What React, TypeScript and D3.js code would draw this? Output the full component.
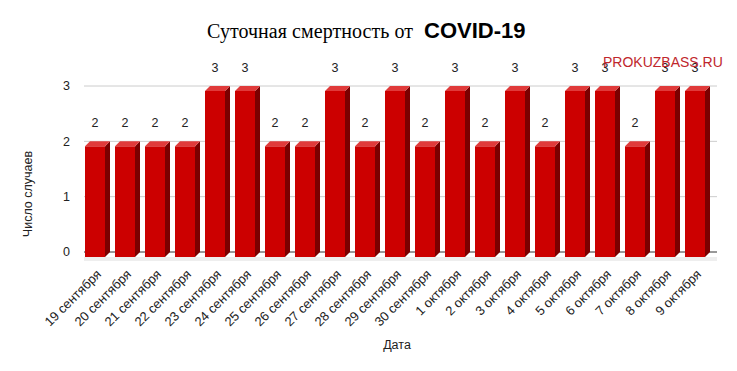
import React from 'react';
import * as d3 from 'd3';

const dates = [
  '19 сентября', '20 сентября', '21 сентября', '22 сентября', '23 сентября',
  '24 сентября', '25 сентября', '26 сентября', '27 сентября', '28 сентября',
  '29 сентября', '30 сентября', '1 октября', '2 октября', '3 октября',
  '4 октября', '5 октября', '6 октября', '7 октября', '8 октября', '9 октября',
];
const deaths = [2, 2, 2, 2, 3, 3, 2, 2, 3, 2, 3, 2, 3, 2, 3, 2, 3, 3, 2, 3, 3];
const yTicks = [0, 1, 2, 3];

const width = 737;
const height = 371;
const margin = { top: 86, right: 20, bottom: 119, left: 85 };
const depth = 5; // глубина 3d

const App: React.FC = () => {
  const innerH = height - margin.top - margin.bottom;

  const x = d3.scaleBand<string>()
    .domain(dates)
    .range([margin.left, margin.left + dates.length * 30])
    .paddingInner(1 / 3)
    .paddingOuter(1 / 6);

  const y = d3.scaleLinear()
    .domain([0, 3])
    .range([margin.top + innerH, margin.top]);

  const bw = x.bandwidth();
  const font = '"Liberation Sans", Arial, sans-serif';
  const serif = '"Liberation Serif", "DejaVu Serif", "Times New Roman", serif';

  return (
    <svg width={width} height={height} style={{ position: 'absolute', left: 0, top: 0 }}>
      <rect width={width} height={height} fill="#fff" />
      <text x={207} y={38} style={{ fontFamily: serif }} fontSize={20} textLength={206} fill="#000">
        Суточная смертность от
      </text>
      <text x={424} y={38} style={{ fontFamily: font }} fontSize={22} fontWeight="bold" fill="#000">
        COVID-19
      </text>

      {yTicks.map(t => (
        <g key={t}>
          <line x1={84} x2={717} y1={y(t)} y2={y(t)} stroke={t === 0 ? '#333' : '#ccc'} strokeWidth={1} />
          <text x={70} y={y(t)} dy="0.35em" textAnchor="end" style={{ fontFamily: font }} fontSize={12.5} fill="#222">{t}</text>
        </g>
      ))}

      {/* тень под столбиками */}
      <rect x={84} y={y(0) + 5} width={633} height={4} fill="#eee" />

      {dates.map((d, i) => {
        const bx = x(d)!;
        const top = y(deaths[i]);
        const base = y(0);
        const fx = bx - depth;
        const fy = top + depth;
        return (
          <g key={d}>
            <polygon
              points={`${fx + bw},${fy} ${bx + bw},${top} ${bx + bw},${base} ${fx + bw},${base + depth}`}
              fill="#7a0000"
            />
            <polygon
              points={`${fx},${fy} ${bx},${top} ${bx + bw},${top} ${fx + bw},${fy}`}
              fill="#e03a3a"
            />
            <rect x={fx} y={fy} width={bw} height={base + depth - fy} fill="#cc0000" />
            <text x={fx + bw / 2} y={top - 14} textAnchor="middle" style={{ fontFamily: font }} fontSize={12.5} fill="#222">
              {deaths[i]}
            </text>
            <text
              transform={`translate(${fx + bw / 2 + 7},${base + 23}) rotate(-45)`}
              textAnchor="end"
              style={{ fontFamily: font }}
              fontSize={13}
              fill="#222"
            >
              {d}
            </text>
          </g>
        );
      })}

      <text x={603} y={67} style={{ fontFamily: font }} fontSize={14} fill="#c0262c">PROKUZBASS.RU</text>

      <text
        transform={`translate(32,${(y(0) + y(3)) / 2 + 25}) rotate(-90)`}
        textAnchor="middle"
        style={{ fontFamily: font }}
        fontSize={12.5}
        fill="#222"
      >
        Число случаев
      </text>
      <text x={397} y={349} textAnchor="middle" style={{ fontFamily: font }} fontSize={12.5} fill="#222">Дата</text>
    </svg>
  );
};

export default App;
